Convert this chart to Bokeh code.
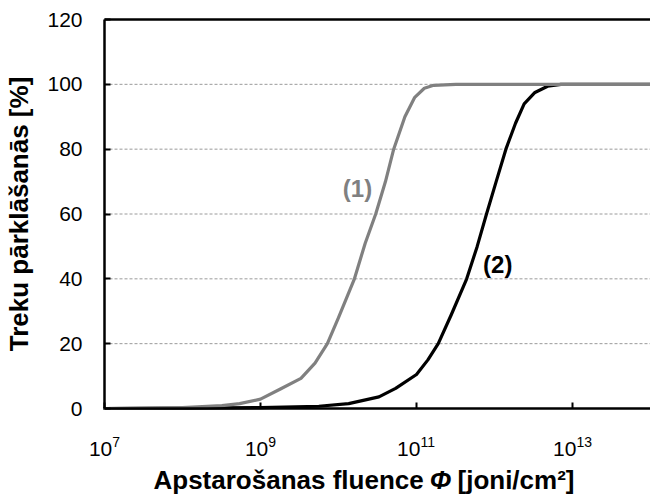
from bokeh.plotting import figure
from bokeh.models import Range1d, FixedTicker, LogAxis, Label, CustomJSTickFormatter
from bokeh.embed import file_html
from bokeh.resources import INLINE
import math

# Track overlap [%] versus irradiation fluence [ions/cm^2]
fluence_1 = [1e7, 3.2e7, 1e8, 3.2e8, 5.4e8, 1e9, 1.8e9, 3.3e9, 5e9, 7.2e9,
             1e10, 1.6e10, 2.2e10, 3e10, 4e10, 5.1e10, 7.1e10, 9.5e10,
             1.26e11, 1.66e11, 3.2e11, 1e12, 1e13, 1e14]
overlap_1 = [0, 0.1, 0.3, 0.9, 1.5, 2.9, 6, 9.3, 14, 20,
             28, 40, 51, 60, 70, 80, 90, 96,
             98.8, 99.7, 100, 100, 100, 100]

fluence_2 = [1e7, 1e8, 1e9, 5.6e9, 1.35e10, 3.3e10, 5.4e10, 1e11, 1.4e11,
             1.9e11, 2.8e11, 4.4e11, 6e11, 7.9e11, 1.05e12, 1.4e12, 1.86e12,
             2.4e12, 3.3e12, 4.8e12, 7.1e12, 1e13, 1e14]
overlap_2 = [0, 0.1, 0.3, 0.7, 1.5, 3.6, 6.2, 10.5, 15,
             20, 29, 40, 50, 60, 70, 80, 88,
             94, 97.5, 99.4, 100, 100, 100]

x_ticks = [1e7, 1e9, 1e11, 1e13]
x_tick_exponents = ["7", "9", "11", "13"]
y_ticks = [0, 20, 40, 60, 80, 100, 120]
grid_ticks = [20, 40, 60, 80, 100]

series_labels = ["(1)", "(2)"]
label_pos_x = [1.75e10, 1.1e12]
label_pos_y = [68, 44.5]

x_title_parts = ["Apstarošanas fluence", "Φ", "[joni/cm²]"]
y_title = "Treku pārklāšanās [%]"

FONT = "Liberation Sans"
GRAY = "#808080"

# The drawing frame fills the whole canvas; the axes are pinned to the
# data box [1e7, 1e14] x [0, 120], which occupies these canvas pixels.
W, H = 650, 494
LEFT, RIGHT, TOP, BOTTOM = 104, 650, 19, 408
X_LO, X_HI, Y_LO, Y_HI = 1e7, 1e14, 0, 120
DEC_PX = (RIGHT - LEFT) / (math.log10(X_HI) - math.log10(X_LO))
UNIT_PX = (BOTTOM - TOP) / (Y_HI - Y_LO)


def sx(px):
    """canvas x pixel -> fluence"""
    return 10 ** (math.log10(X_LO) + (px - LEFT) / DEC_PX)


def sy(py):
    """canvas y pixel -> overlap value"""
    return Y_LO + (BOTTOM - py) / UNIT_PX


p = figure(width=W, height=H, x_axis_type="log",
           x_range=Range1d(sx(0), sx(W)), y_range=Range1d(sy(H), sy(0)),
           output_backend="svg", toolbar_location=None,
           min_border_left=0, min_border_right=0,
           min_border_top=0, min_border_bottom=0)

p.outline_line_color = None
p.background_fill_color = "white"
p.border_fill_color = "white"
p.xgrid.visible = False
p.ygrid.visible = False

# dashed horizontal gridlines across the data box
n = len(grid_ticks)
p.segment(x0=[X_LO] * n, y0=grid_ticks, x1=[X_HI] * n, y1=grid_ticks,
          line_color="#9a9a9a", line_width=1, line_dash="3 2")

# curves: (2) underneath, (1) on top
p.line(fluence_2, overlap_2, line_color="black", line_width=3.2,
       line_join="round", line_cap="round")
p.line(fluence_1, overlap_1, line_color=GRAY, line_width=3.2,
       line_join="round", line_cap="round")

# x axis pinned at overlap = 0
xa = p.xaxis[0]
xa.fixed_location = Y_LO
xa.bounds = (X_LO, X_HI)
xa.ticker = FixedTicker(ticks=x_ticks)
xa.formatter = CustomJSTickFormatter(code="return '';")
xa.major_label_text_font = FONT
xa.major_label_text_font_size = "2px"
xa.major_label_standoff = 0

# y axis pinned at fluence = 1e7
ya = p.yaxis[0]
ya.fixed_location = X_LO
ya.bounds = (Y_LO, Y_HI)
ya.ticker = FixedTicker(ticks=y_ticks)
ya.axis_label = y_title
ya.major_label_text_font = FONT
ya.major_label_text_font_size = "21px"
ya.major_label_text_color = "black"
ya.major_label_standoff = 22
ya.axis_label_text_font = FONT
ya.axis_label_text_font_size = "26px"
ya.axis_label_text_font_style = "bold"
ya.axis_label_text_color = "black"
ya.axis_label_standoff = 10

for ax in (xa, ya):
    ax.axis_line_color = "black"
    ax.axis_line_width = 2.5
    ax.major_tick_in = 6
    ax.major_tick_out = 0
    ax.major_tick_line_width = 2
    ax.major_tick_line_color = "black"
    ax.minor_tick_in = 0
    ax.minor_tick_out = 0

# top frame line at overlap = 120
top = LogAxis(fixed_location=Y_HI, bounds=(X_LO, X_HI),
              ticker=FixedTicker(ticks=[]), axis_line_color="black",
              axis_line_width=2.5, major_tick_in=0, major_tick_out=0,
              minor_tick_in=0, minor_tick_out=0,
              major_label_text_font_size="2px")
p.add_layout(top, "above")

# x tick labels as 10 with a raised exponent
BASE_PX, EXP_PX = 21, 14
DIGIT_W = 0.556
for tick, ex in zip(x_ticks, x_tick_exponents):
    base_w = 2 * DIGIT_W * BASE_PX
    exp_w = len(ex) * DIGIT_W * EXP_PX
    split = (base_w + exp_w) / 2 - exp_w
    p.add_layout(Label(x=tick, y=sy(448), x_offset=split, text="10",
                       text_font=FONT, text_font_size=f"{BASE_PX}px",
                       text_color="black", text_align="right",
                       text_baseline="alphabetic"))
    p.add_layout(Label(x=tick, y=sy(441), x_offset=split, text=ex,
                       text_font=FONT, text_font_size=f"{EXP_PX}px",
                       text_color="black", text_align="left",
                       text_baseline="alphabetic"))

# x axis title with an italic Phi (top of the text box given)
TITLE_PX = 26
title_y = sy(464)
p.add_layout(Label(x=sx(153), y=title_y, text=x_title_parts[0],
                   text_font=FONT, text_font_size=f"{TITLE_PX}px",
                   text_font_style="bold", text_color="black",
                   text_align="left", text_baseline="top"))
p.add_layout(Label(x=sx(440), y=title_y, text=x_title_parts[1],
                   text_font=FONT, text_font_size=f"{TITLE_PX}px",
                   text_font_style="bold italic", text_color="black",
                   text_align="center", text_baseline="top"))
p.add_layout(Label(x=sx(457), y=title_y, text=x_title_parts[2],
                   text_font=FONT, text_font_size=f"{TITLE_PX}px",
                   text_font_style="bold", text_color="black",
                   text_align="left", text_baseline="top"))

# series labels
colors = [GRAY, "black"]
for txt, lx, ly, c in zip(series_labels, label_pos_x, label_pos_y, colors):
    p.add_layout(Label(x=lx, y=ly, text=txt, text_font=FONT,
                       text_font_size="24px", text_font_style="bold",
                       text_color=c, text_align="center",
                       text_baseline="middle"))

open("out.html", "w", encoding="utf-8").write(file_html(p, INLINE))
